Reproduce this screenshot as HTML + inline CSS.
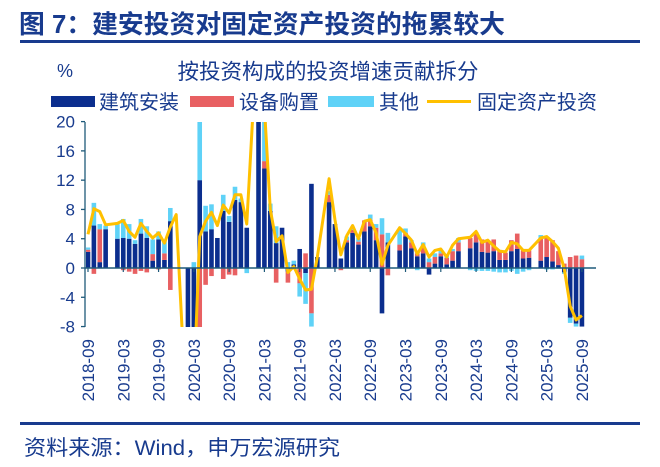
<!DOCTYPE html>
<html><head><meta charset="utf-8"><style>
body{margin:0;background:#fff;width:660px;height:467px;overflow:hidden;font-family:"Liberation Sans","Noto Sans CJK SC",sans-serif;}
svg{position:absolute;left:0;top:0}
</style></head><body>
<svg id="s" width="660" height="467" xmlns="http://www.w3.org/2000/svg" font-family="Liberation Sans, Noto Sans CJK SC, sans-serif">
<text x="19" y="33" font-size="25.5" font-weight="bold" fill="#183b8e" textLength="486" lengthAdjust="spacingAndGlyphs">图 7：建安投资对固定资产投资的拖累较大</text>
<rect x="20" y="40" width="620" height="3" fill="#183b8e"/>
<text x="57" y="77" font-size="18" fill="#183b8e">%</text>
<text x="328" y="79" font-size="21.5" fill="#183b8e" text-anchor="middle">按投资构成的投资增速贡献拆分</text>
<rect x="51" y="96" width="44" height="11" fill="#0b2e8e"/>
<text x="99" y="109" font-size="20" fill="#183b8e">建筑安装</text>
<rect x="190" y="96" width="44" height="11" fill="#e86062"/>
<text x="239" y="109" font-size="20" fill="#183b8e">设备购置</text>
<rect x="328" y="96" width="46" height="11" fill="#5fd2f7"/>
<text x="379" y="109" font-size="20" fill="#183b8e">其他</text>
<rect x="427" y="100" width="44" height="3" fill="#ffc000"/>
<text x="477" y="109" font-size="20" fill="#183b8e">固定资产投资</text>
<defs><clipPath id="c"><rect x="86" y="122" width="510" height="205"/></clipPath></defs>
<g id="bars" clip-path="url(#c)"></g>
<g id="axes"></g>
<rect x="20" y="422" width="620" height="3" fill="#183b8e"/>
<text x="24" y="455" font-size="21" fill="#183b8e" textLength="316" lengthAdjust="spacingAndGlyphs">资料来源：Wind，申万宏源研究</text>
</svg>
<script>
var D={0:[4.6,2.2,.3,.3],1:[8.1,5.8,-.8,3.1],2:[7.7,.8,4.5,.7],3:[5.9,5.3,0,.5],
5:[6.1,4,0,2],6:[6.5,4.1,-.3,2.6],7:[5.0,4,-.5,2],8:[4.2,3.3,-.8,.5],9:[6.1,4.7,-.4,2],10:[5,4.1,-.6,1.6],11:[4.1,1,.9,2],12:[4.8,3.9,-.2,1.1],13:[3.4,1.1,.9,1.7],14:[5.6,6.4,-3,1.8],15:[7.3,0,0,0],
17:[-24,-8.5,0,0],18:[-16,-8.5,0,.8],19:[4.3,12,-8.5,8],20:[6.4,5,-2.3,3.5],21:[7.6,5.3,-1.1,3.4],22:[5.8,4.1,0,0],23:[8.6,7.8,-1.5,2.2],24:[7.5,6.3,-.9,.8],25:[10,9.3,-1,1.8],26:[10,9,0,.5],27:[6,5.5,0,-.7],
29:[35,25,0,0],30:[22,13.6,1,8],31:[8,7.8,0,1],32:[3.6,3.4,-2,2.3],33:[4.4,5.5,0,0],34:[-.6,-.5,-1.5,.8],35:[.2,.5,-.2,.5],36:[-1.5,2.6,-2.1,-1.8],37:[-3,-.7,2,-4.2],38:[-2.9,11.5,-6.2,-1.8],39:[1.5,1.5,0,0],
41:[12.2,9,1,.5],42:[6.6,6,0,0],43:[1.8,1.3,-.3,0],44:[4.4,3.5,.3,.5],45:[5.8,4.8,.4,.4],46:[4,3.2,.4,.5],47:[6.4,5,1.5,0],48:[6.6,5.7,.9,.7],49:[4.8,3.8,1.7,.5],50:[.5,-6.2,4.6,2.2],51:[3.1,3.5,-1,1.3],
53:[5.5,2.4,.8,2],54:[4.7,4.3,.5,.6],55:[3.8,2.7,.8,.3],56:[1.9,1.6,.4,-.3],57:[3.2,2,1,.5],58:[1.5,-.9,.8,.5],59:[2.4,.6,.9,.5],60:[2.6,1.6,.4,.4],61:[1.5,.5,.9,.3],62:[3.1,1,1.3,.3],63:[4,2.3,1.2,.6],
65:[4.2,2.7,1.4,-.3],66:[5,3.5,1.4,-.4],67:[3.5,2.2,1.7,-.4],68:[3.8,2.1,1.5,-.4],69:[3,2.3,1.6,-.5],70:[2.3,1.1,1.2,-.6],71:[2.2,1.1,1,-.6],72:[3.5,2.3,1.5,-.4],73:[3.3,2.6,2.1,-.8],74:[2.4,1.3,1.1,-.5],75:[2.4,1.4,1,-.3],
77:[4.1,1,3.1,.4],78:[4.3,1.5,2.8,-.2],79:[3.6,.9,2.9,-.2],80:[2.7,.4,1.9,-.1],81:[-.1,-.6,.6,-.2],82:[-5.2,-6.8,1.5,-.7],83:[-7.1,-7.6,1.7,-.4],84:[-6.5,-8,1.2,.5]};
var X=function(i){return 88+i*5.88},Y=function(v){return 268-v*7.32};
var cols=["#0b2e8e","#e86062","#5fd2f7"],b="",pts=[];
for(var i=0;i<=84;i++){var d=D[i];if(!d)continue;var pos=0,neg=0;
for(var k=0;k<3;k++){var v=d[k+1];if(!v)continue;var y0,y1;if(v>0){y0=pos;pos+=v;y1=pos}else{y0=neg;neg+=v;y1=neg}
var a=Y(Math.max(y0,y1)),h=Math.abs(Y(y0)-Y(y1));b+='<rect x="'+(X(i)-2.3)+'" y="'+a+'" width="4.6" height="'+h+'" fill="'+cols[k]+'"/>';}
pts.push(X(i)+","+Y(d[0]));}
b+='<polyline points="'+pts.join(" ")+'" fill="none" stroke="#ffc000" stroke-width="3" stroke-linejoin="round"/>';
document.getElementById("bars").innerHTML=b;
var a='<line x1="85" y1="122" x2="85" y2="327" stroke="#1f5a7a" stroke-width="1.3"/><line x1="85" y1="268" x2="596" y2="268" stroke="#1f5a7a" stroke-width="1.5"/>';
for(var v=-8;v<=20;v+=4){a+='<line x1="81" y1="'+Y(v)+'" x2="85" y2="'+Y(v)+'" stroke="#1f5a7a" stroke-width="1.3"/><text x="75" y="'+(Y(v)+6)+'" font-size="17" fill="#183b8e" text-anchor="end">'+v+'</text>';}
var L=["2018-09","2019-03","2019-09","2020-03","2020-09","2021-03","2021-09","2022-03","2022-09","2023-03","2023-09","2024-03","2024-09","2025-03","2025-09"];
for(var j=0;j<15;j++){var x=X(j*6);a+='<line x1="'+x+'" y1="268" x2="'+x+'" y2="272" stroke="#1f5a7a" stroke-width="1.2"/><text transform="translate('+(x+6)+',339) rotate(-90)" font-size="17" fill="#183b8e" text-anchor="end">'+L[j]+'</text>';}
document.getElementById("axes").innerHTML=a;
</script>
</body></html>
